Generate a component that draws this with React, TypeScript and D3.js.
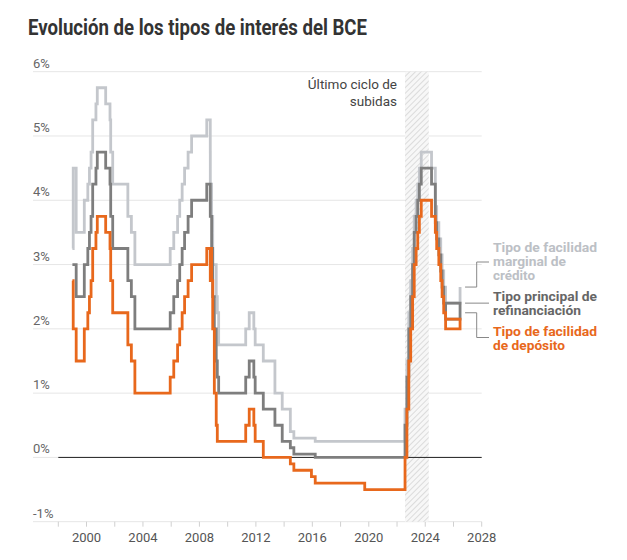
import React from "react";
import * as d3 from "d3";

const W = 627;
const H = 560;

// fechas de cambio de tipos del BCE
const dates = [
  "1999-01-01", "1999-01-22", "1999-04-09", "1999-11-05", "2000-02-04",
  "2000-03-17", "2000-04-28", "2000-06-09", "2000-09-01", "2000-10-06",
  "2001-05-11", "2001-08-31", "2001-09-18", "2001-11-09", "2002-12-06",
  "2003-03-07", "2003-06-06", "2005-12-06", "2006-03-08", "2006-06-15",
  "2006-08-09", "2006-10-11", "2006-12-13", "2007-03-14", "2007-06-13",
  "2008-07-09", "2008-10-08", "2008-10-09", "2008-11-12", "2008-12-10",
  "2009-01-21", "2009-03-11", "2009-04-08", "2009-05-13", "2011-04-13",
  "2011-07-13", "2011-11-09", "2011-12-14", "2012-07-11", "2013-05-08",
  "2013-11-13", "2014-06-11", "2014-09-10", "2015-12-09", "2016-03-16",
  "2019-09-18", "2022-07-27", "2022-09-14", "2022-11-02", "2022-12-21",
  "2023-02-08", "2023-03-22", "2023-05-10", "2023-06-21", "2023-08-02",
  "2023-09-20", "2024-06-12", "2024-09-18", "2024-10-23", "2024-12-18",
  "2025-02-05", "2025-03-12", "2025-04-23", "2025-06-11",
];

const deposit = [
  2.75, 2.0, 1.5, 2.0, 2.25, 2.5, 2.75, 3.25, 3.5, 3.75,
  3.5, 3.25, 2.75, 2.25, 1.75, 1.5, 1.0, 1.25, 1.5, 1.75,
  2.0, 2.25, 2.5, 2.75, 3.0, 3.25, 2.75, 3.25, 2.75, 2.0,
  1.0, 0.5, 0.25, 0.25, 0.5, 0.75, 0.5, 0.25, 0.0, 0.0,
  0.0, -0.1, -0.2, -0.3, -0.4, -0.5, 0.0, 0.75, 1.5, 2.0,
  2.5, 3.0, 3.25, 3.5, 3.75, 4.0, 3.75, 3.5, 3.25, 3.0,
  2.75, 2.5, 2.25, 2.0,
];

const refi = [
  3.0, 3.0, 2.5, 3.0, 3.25, 3.5, 3.75, 4.25, 4.5, 4.75,
  4.5, 4.25, 3.75, 3.25, 2.75, 2.5, 2.0, 2.25, 2.5, 2.75,
  3.0, 3.25, 3.5, 3.75, 4.0, 4.25, 3.75, 3.75, 3.25, 2.5,
  2.0, 1.5, 1.25, 1.0, 1.25, 1.5, 1.25, 1.0, 0.75, 0.5,
  0.25, 0.15, 0.05, 0.05, 0.0, 0.0, 0.5, 1.25, 2.0, 2.5,
  3.0, 3.5, 3.75, 4.0, 4.25, 4.5, 4.25, 3.65, 3.4, 3.15,
  2.9, 2.65, 2.4, 2.15,
];

const marginal = [
  3.25, 4.5, 3.5, 4.0, 4.25, 4.5, 4.75, 5.25, 5.5, 5.75,
  5.5, 5.25, 4.75, 4.25, 3.75, 3.5, 3.0, 3.25, 3.5, 3.75,
  4.0, 4.25, 4.5, 4.75, 5.0, 5.25, 4.75, 4.25, 3.75, 3.0,
  3.0, 2.5, 2.25, 1.75, 2.0, 2.25, 2.0, 1.75, 1.5, 1.0,
  0.75, 0.4, 0.3, 0.3, 0.25, 0.25, 0.75, 1.5, 2.25, 2.75,
  3.25, 3.75, 4.0, 4.25, 4.5, 4.75, 4.5, 3.9, 3.65, 3.4,
  3.15, 2.9, 2.65, 2.4,
];

// tramo final tal como aparece en el gráfico
const tailDates = ["2026-06-20", "2026-06-20", "2025-06-11"];
const depositTail = [2.0, 2.15, 2.15];
const refiTail = [2.15, 2.4, 2.4];
const marginalTail = [2.4, 2.65];

const hatchRange = ["2022-07-27", "2024-04-01"];
const yTicks = [-1, 0, 1, 2, 3, 4, 5, 6];
const xLabelYears = [2000, 2004, 2008, 2012, 2016, 2020, 2024, 2028];

const colors = {
  marginal: "#c4c7cc",
  refi: "#7e7e7e",
  deposit: "#e8681c",
};

const parse = d3.timeParse("%Y-%m-%d");

const App = () => {
  const x = d3
    .scaleTime()
    .domain([new Date(1998, 0, 1), new Date(2028, 0, 1)])
    .range([58.3, 481.7]);
  const y = d3.scaleLinear().domain([-1, 6]).range([521.7, 71.7]);

  const line = d3
    .line<[Date, number]>()
    .x((d) => x(d[0]))
    .y((d) => y(d[1]))
    .curve(d3.curveStepAfter);

  const build = (vals: number[], tail: number[]) => {
    const pts: [Date, number][] = dates.map((d, i) => [parse(d)!, vals[i]]);
    tail.forEach((v, i) => pts.push([parse(tailDates[i])!, v]));
    return line(pts) || "";
  };

  const xTicks = d3.range(1998, 2029, 2).map((yr) => new Date(yr, 0, 1));
  const hx0 = x(parse(hatchRange[0])!);
  const hx1 = x(parse(hatchRange[1])!);
  const endX = x(parse(tailDates[0])!);

  return (
    <svg
      width={W}
      height={H}
      style={{ position: "absolute", left: 0, top: 0, fontFamily: "Roboto, sans-serif" }}
    >
      <defs>
        <pattern id="hatch" width="4" height="4" patternUnits="userSpaceOnUse" patternTransform="rotate(45)">
          <rect width="4" height="4" fill="#f7f7f7" />
          <line x1="0" y1="0" x2="0" y2="4" stroke="#c9c9c9" strokeWidth="1.2" />
        </pattern>
      </defs>
      <rect width={W} height={H} fill="#fff" />

      <text x={28} y={35} fontSize={22} fontWeight="bold" fill="#333" textLength={339} lengthAdjust="spacingAndGlyphs">
        Evolución de los tipos de interés del BCE
      </text>

      {yTicks.map((t) => (
        <g key={t}>
          <line x1={33} x2={481.7} y1={y(t)} y2={y(t)} stroke="#e6e6e6" strokeWidth={1} />
          <text x={33} y={y(t) - 4} fontSize={13} fill="#666">
            {t}%
          </text>
        </g>
      ))}

      {xTicks.map((d, i) => (
        <line key={i} x1={x(d)} x2={x(d)} y1={y(-1)} y2={y(-1) + 5} stroke="#d0d0d0" />
      ))}
      {xLabelYears.map((yr) => (
        <text key={yr} x={x(new Date(yr, 0, 1))} y={542} fontSize={13} fill="#555" textAnchor="middle">
          {yr}
        </text>
      ))}

      <rect x={hx0} y={y(6)} width={hx1 - hx0} height={y(-1) - y(6)} fill="url(#hatch)" />

      <line x1={x(new Date(1998, 0, 1))} x2={481.7} y1={y(0)} y2={y(0)} stroke="#222" strokeWidth={1} />

      <path d={build(marginal, marginalTail)} fill="none" stroke={colors.marginal} strokeWidth={2.8} />
      <path d={build(refi, refiTail)} fill="none" stroke={colors.refi} strokeWidth={2.8} />
      <path d={build(deposit, depositTail)} fill="none" stroke={colors.deposit} strokeWidth={2.8} />

      <g fontSize={13.5} fill="#444" textAnchor="end">
        <text x={397} y={89}>Último ciclo de</text>
        <text x={397} y={106}>subidas</text>
      </g>

      <g stroke="#888" fill="none" strokeWidth={1}>
        <path d={`M${endX + 5},${y(2.65)}H476.7V262H489`} />
        <path d={`M${endX + 5},${y(2.4)}H489`} />
        <path d={`M${endX + 5},${y(2.25)}H476.7V337.5H489`} />
      </g>

      <g fontSize={13} fontWeight="bold">
        <text x={493} y={252} fill="#bcc0c5" textLength={104} lengthAdjust="spacingAndGlyphs">Tipo de facilidad</text>
        <text x={493} y={266} fill="#bcc0c5" textLength={73} lengthAdjust="spacingAndGlyphs">marginal de</text>
        <text x={493} y={280} fill="#bcc0c5" textLength={42} lengthAdjust="spacingAndGlyphs">crédito</text>
        <text x={493} y={301} fill="#666" textLength={104} lengthAdjust="spacingAndGlyphs">Tipo principal de</text>
        <text x={493} y={315} fill="#666" textLength={88} lengthAdjust="spacingAndGlyphs">refinanciación</text>
        <text x={493} y={336} fill={colors.deposit} textLength={104} lengthAdjust="spacingAndGlyphs">Tipo de facilidad</text>
        <text x={493} y={350} fill={colors.deposit} textLength={72} lengthAdjust="spacingAndGlyphs">de depósito</text>
      </g>
    </svg>
  );
};

export default App;
